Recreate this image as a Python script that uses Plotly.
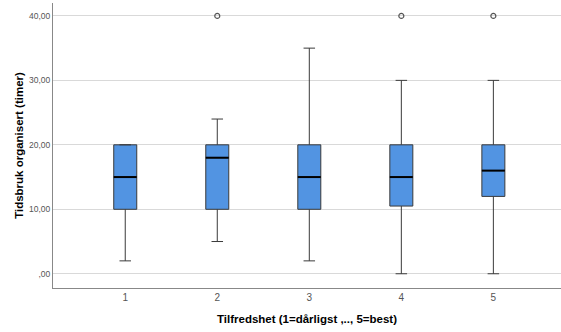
import plotly.graph_objects as go

categories = [1, 2, 3, 4, 5]
lower_whisker = [2, 5, 2, 0, 0]
q1 = [10, 10, 10, 10.5, 12]
median = [15, 18, 15, 15, 16]
q3 = [20, 20, 20, 20, 20]
upper_whisker = [20, 24, 35, 30, 30]
outlier_x = [2, 4, 5]
outlier_y = [40, 40, 40]
ytick_vals = [0, 10, 20, 30, 40]
ytick_text = [",00", "10,00", "20,00", "30,00", "40,00"]
xtick_text = ["1", "2", "3", "4", "5"]

fig = go.Figure()
fig.add_trace(go.Box(
    x=categories, q1=q1, median=median, q3=q3,
    lowerfence=lower_whisker, upperfence=upper_whisker,
    width=0.25, whiskerwidth=0.5,
    fillcolor="#5294e2", line=dict(color="#3a3a3a", width=1),
    boxpoints=False, showlegend=False, hoverinfo="skip",
))
fig.add_trace(go.Scatter(
    x=categories, y=median, mode="markers",
    marker=dict(symbol="line-ew", size=16.4, line=dict(color="#000000", width=2)),
    showlegend=False, hoverinfo="skip",
))
fig.add_trace(go.Scatter(
    x=outlier_x, y=outlier_y, mode="markers",
    marker=dict(symbol="circle-open", size=5, color="#555555", line=dict(width=1.2)),
    showlegend=False,
))

fig.update_layout(
    width=561, height=332,
    margin=dict(l=53, r=0, t=3, b=44, autoexpand=False),
    paper_bgcolor="white", plot_bgcolor="white",
    font=dict(family="Liberation Sans, Arial, sans-serif", color="#000"),
)
fig.update_xaxes(
    range=[0.215, 5.735], tickvals=categories, ticktext=xtick_text,
    showgrid=False, zeroline=False, showline=True, linecolor="#888888", linewidth=1,
    ticks="", tickfont=dict(size=10, color="#555555"),
    title=dict(text="<b>Tilfredshet (1=dårligst ,.., 5=best)</b>", font=dict(size=11.5, color="#000"), standoff=12),
)
fig.update_yaxes(
    range=[-2.21, 42.0], tickvals=ytick_vals, ticktext=ytick_text,
    showgrid=True, gridcolor="#d9d9d9", gridwidth=1, zeroline=False,
    showline=True, linecolor="#888888", linewidth=1,
    ticks="", tickfont=dict(size=8.5, color="#555555"),
    title=dict(text="<b>Tidsbruk organisert (timer)</b>", font=dict(size=11.5, color="#000"), standoff=2),
)
fig.write_html("out.html", config={"displayModeBar": False},
               post_script="document.body.style.margin='0';")
